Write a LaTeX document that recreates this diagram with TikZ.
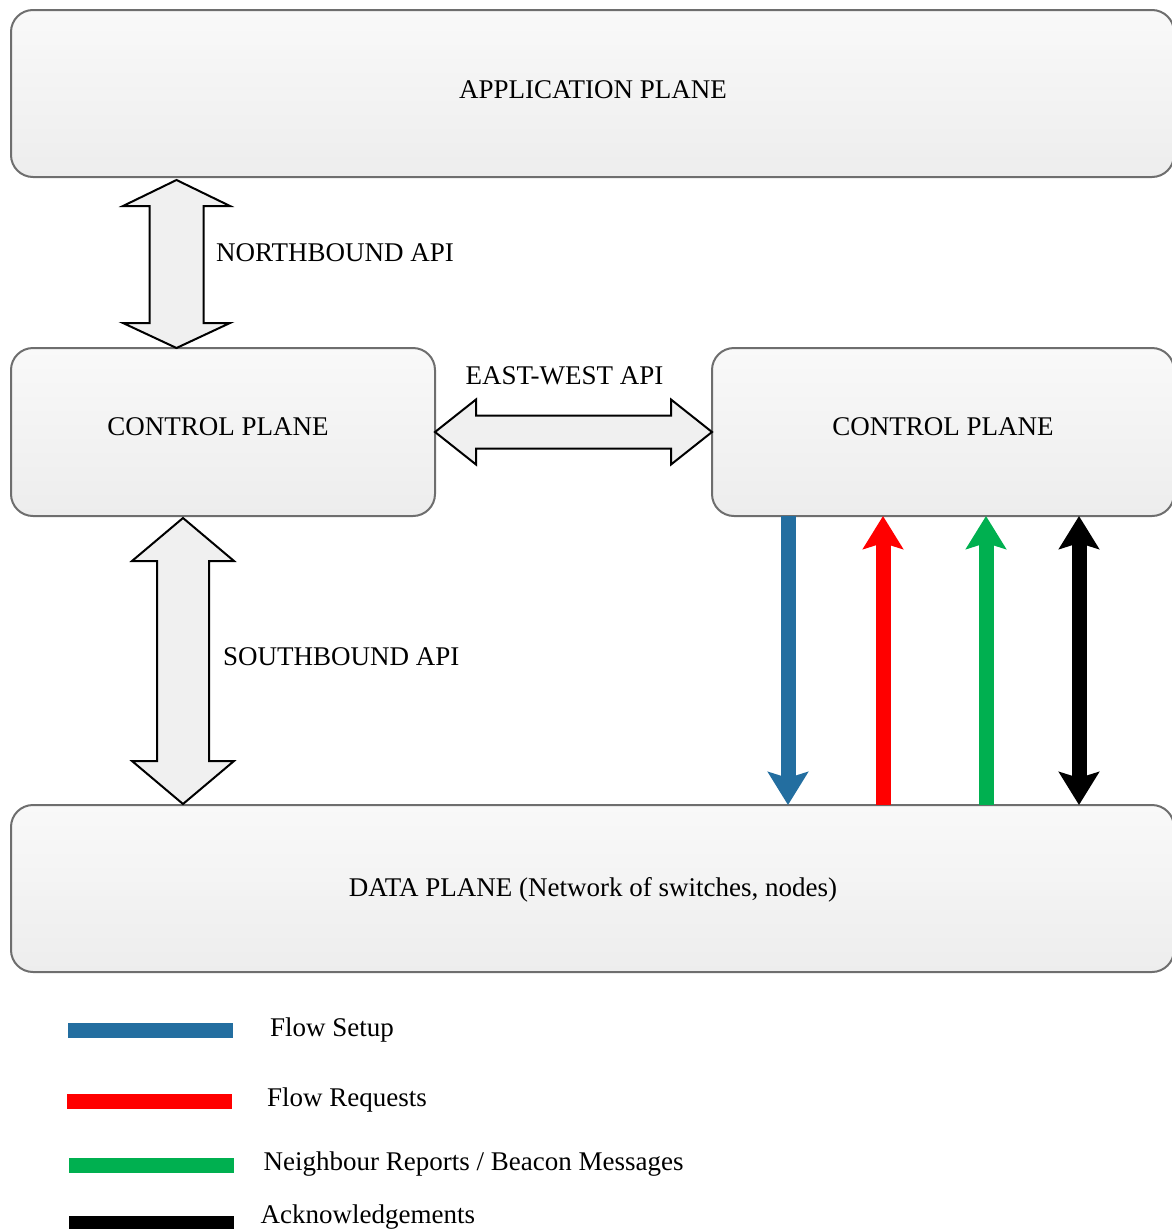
\documentclass[tikz,border=0pt]{standalone}
\usepackage{fontspec}
\setmainfont{Liberation Serif}
\usetikzlibrary{arrows.meta}
\definecolor{fsblue}{HTML}{236EA0}
\definecolor{frred}{HTML}{FF0000}
\definecolor{nbgreen}{HTML}{00B050}
\definecolor{boxline}{HTML}{6E6E6E}
\definecolor{boxtop}{HTML}{F9F9F9}
\definecolor{boxbot}{HTML}{EDEDED}
\definecolor{blockfill}{HTML}{F0F0F0}
\begin{document}
\begin{tikzpicture}[x=1pt,y=-1pt,
  plane/.style={draw=boxline, line width=2pt, rounded corners=22pt,
    top color=boxtop, bottom color=boxbot, inner sep=0pt, outer sep=0pt},
  lbl/.style={font=\fontsize{27}{32}\selectfont, inner sep=0pt, anchor=base},
  lblw/.style={lbl, anchor=base west},
  blockarrow/.style={draw=black, line width=2pt, fill=blockfill, line join=miter},
  flow/.style={line width=15pt, -{Stealth[length=33pt,width=40pt,inset=6pt]}},
  flowboth/.style={line width=15pt, {Stealth[length=33pt,width=40pt,inset=6pt]}-{Stealth[length=33pt,width=40pt,inset=6pt]}},
  swatch/.style={line width=15pt}]
\useasboundingbox (0,0) rectangle (1171,1229);

% planes
\node[plane, minimum width=1163pt, minimum height=167pt] (app) at (592.5,93.5) {};
\node[plane, minimum width=424pt, minimum height=168pt] (cpl) at (223,432) {};
\node[plane, minimum width=462pt, minimum height=168pt] (cpr) at (943,432) {};
\node[plane, minimum width=1163pt, minimum height=167pt] (dp) at (592.5,888.5) {};

% labels
\node[lbl] (tapp) at (593,98) {APPLICATION PLANE};
\node[lbl] (tcpl) at (218,435) {CONTROL PLANE};
\node[lbl] (tcpr) at (943,435) {CONTROL PLANE};
\node[lbl] (tdp) at (593,896) {DATA PLANE (Network of switches, nodes)};
\node[lblw] (tnb) at (216,261) {NORTHBOUND API};
\node[lbl] (tew) at (564.5,384) {EAST-WEST API};
\node[lblw] (tsb) at (223,665) {SOUTHBOUND API};

% northbound block arrow
\draw[blockarrow] (176.5,180) -- (230,206) -- (203.5,206) -- (203.5,323) -- (230,323)
  -- (176.5,348) -- (123,323) -- (149.5,323) -- (149.5,206) -- (123,206) -- cycle;
% southbound block arrow
\draw[blockarrow] (183,518) -- (234,561) -- (209,561) -- (209,761) -- (234,761)
  -- (183,804) -- (132,761) -- (157,761) -- (157,561) -- (132,561) -- cycle;
% east-west block arrow
\draw[blockarrow] (435,432) -- (476,399.5) -- (476,415.5) -- (671,415.5) -- (671,399.5)
  -- (712,432) -- (671,464.5) -- (671,448.5) -- (476,448.5) -- (476,464.5) -- cycle;

% coloured flows
\coordinate (xb) at (788,0);
\coordinate (xr) at (883,0);
\coordinate (xg) at (986,0);
\coordinate (xk) at (1079,0);
\draw[flow, fsblue] (xb |- cpr.south) -- (xb |- dp.north);
\draw[flow, frred] (xr |- dp.north) -- (xr |- cpr.south);
\draw[flow, nbgreen] (xg |- dp.north) -- (xg |- cpr.south);
\draw[flowboth, black] (xk |- dp.north) -- (xk |- cpr.south);

% legend
\draw[swatch, fsblue] (68,1030) -- (233,1030);
\draw[swatch, frred] (67,1101) -- (232,1101);
\draw[swatch, nbgreen] (69,1165) -- (234,1165);
\draw[swatch, black] (69,1223) -- (234,1223);
\node[lblw] (l1) at (270,1036) {Flow Setup};
\node[lblw] (l2) at (267,1106) {Flow Requests};
\node[lblw] (l3) at (263.5,1170) {Neighbour Reports / Beacon Messages};
\node[lblw] (l4) at (260.5,1223) {Acknowledgements};
\end{tikzpicture}
\end{document}
